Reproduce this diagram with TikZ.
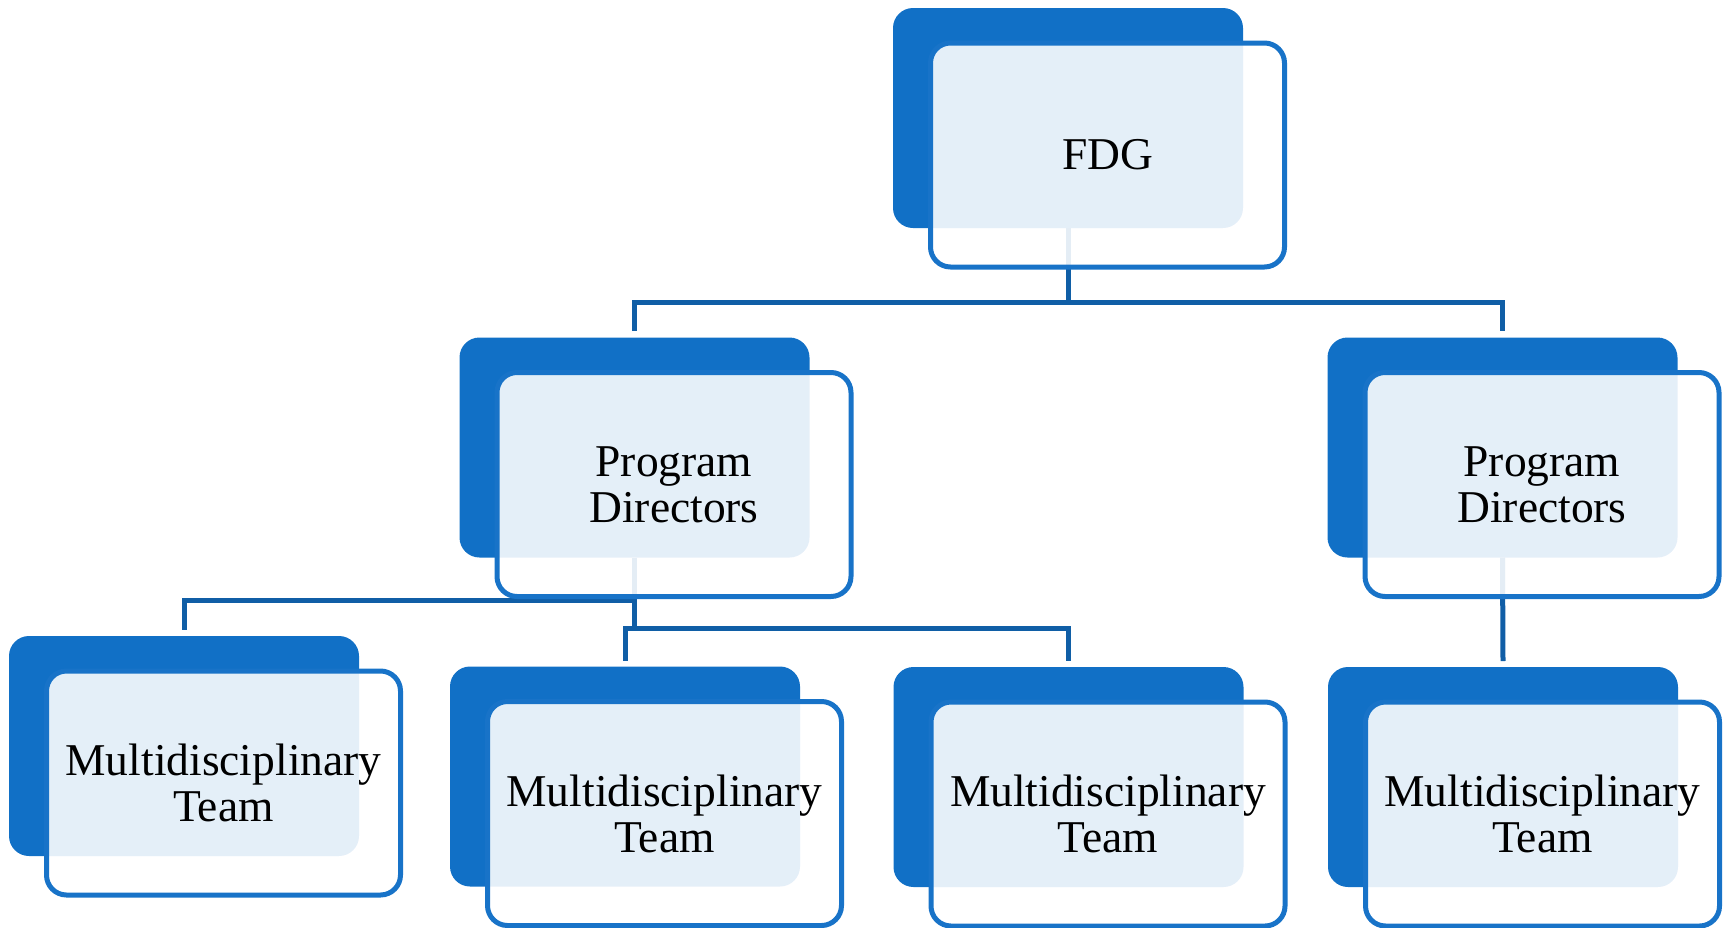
\documentclass[tikz,border=0pt]{standalone}
\usepackage{fontspec}
\setmainfont{Liberation Serif}
\definecolor{backblue}{RGB}{17,112,198}
\definecolor{frontblue}{RGB}{24,115,200}
\definecolor{connblue}{RGB}{16,94,166}
\tikzset{
  backbox/.style={fill=backblue, rounded corners=20pt, minimum width=350pt, minimum height=220pt, inner sep=0pt, outer sep=0pt},
  frontbox/.style={draw=frontblue, line width=5pt, fill=white, fill opacity=0.89, text opacity=1, rounded corners=20pt, minimum width=354pt, minimum height=224pt, inner sep=0pt, outer sep=0pt, align=center, font=\fontsize{45.5}{46}\selectfont},
  conn/.style={draw=connblue, line width=5pt, line join=miter}
}
\begin{document}
\begin{tikzpicture}[x=1pt,y=-1pt]
\useasboundingbox (0,0) rectangle (1727,927);
% back boxes
\node[backbox] (fdgB) at (1068,118) {};
\node[backbox] (pd1B) at (634.5,447.5) {};
\node[backbox] (pd2B) at (1502.5,447.5) {};
\node[backbox] (mt1B) at (184,746) {};
\node[backbox] (mt2B) at (625,776.5) {};
\node[backbox] (mt3B) at (1068.5,777) {};
\node[backbox] (mt4B) at (1503,777) {};
% connectors
\coordinate (j1) at (1068,302);
\coordinate (j2) at (634.5,600);
\coordinate (j3) at (634.5,628);
\draw[conn] (fdgB.south) -- (j1);
\draw[conn] ([yshift=6.5pt]pd1B.north) |- (j1) -| ([yshift=6.5pt]pd2B.north);
\draw[conn] (pd1B.south) -- (j3);
\draw[conn] (j2) -| ([yshift=6pt]mt1B.north);
\draw[conn] ([yshift=6pt]mt2B.north) |- (j3) -| ([yshift=6pt]mt3B.north);
\draw[conn] (pd2B.south) -- ([yshift=6pt]mt4B.north);
% front boxes
\node[frontbox] (fdg) at (1107.5,155) {FDG};
\node[frontbox] (pd1) at (674,484.5) {Program\\Directors};
\node[frontbox] (pd2) at (1542,484.5) {Program\\Directors};
\node[frontbox] (mt1) at (223.5,783) {Multidisciplinary\\Team};
\node[frontbox] (mt2) at (664.5,813.5) {Multidisciplinary\\Team};
\node[frontbox] (mt3) at (1108,814) {Multidisciplinary\\Team};
\node[frontbox] (mt4) at (1542.5,814) {Multidisciplinary\\Team};
\end{tikzpicture}
\end{document}
